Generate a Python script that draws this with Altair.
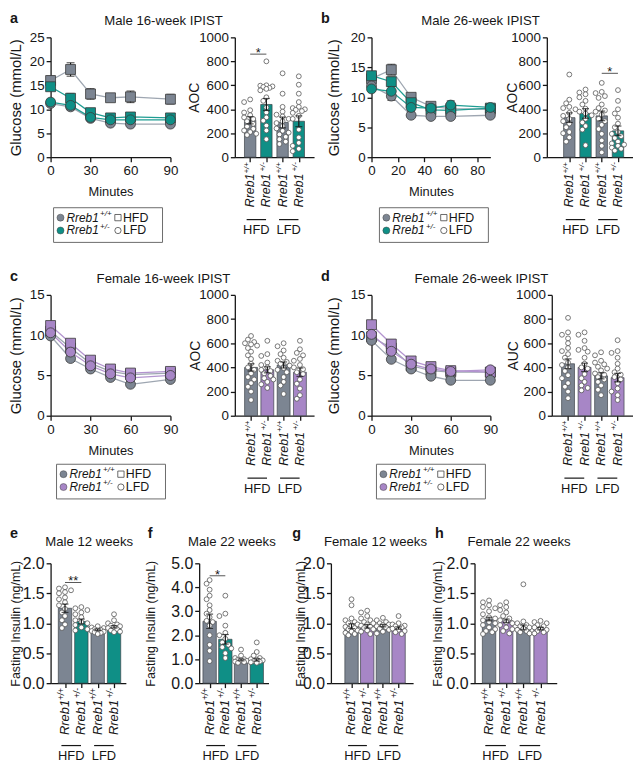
import altair as alt
import pandas as pd

FONT = "Liberation Sans"
GREY = "#7c8592"
TEAL = "#0f8f86"
PURPLE = "#a786c6"
GREY_LINE = "#9ea6b1"
TEAL_LINE = "#1f9d93"
PURPLE_LINE = "#b394cf"
INK = "#161616"

# ---------------- data ----------------
TIMES = [0, 15, 30, 45, 60, 90]
DIETS = ["HFD", "LFD"]
GENOS = ["+/+", "+/-"]
BAR_SUPS = ["+/+", "+/-", "+/+", "+/-"]

# panel a: Male 16-week IPIST (glucose, mmol/L)
A_HFD_WT = [16.0, 18.3, 13.2, 12.4, 12.6, 12.1]
A_HFD_WT_SEM = [0.9, 1.4, 1.1, 0.8, 1.2, 1.0]
A_HFD_HET = [14.7, 12.3, 9.3, 8.2, 8.4, 8.2]
A_HFD_HET_SEM = [0.6, 1.0, 0.8, 0.7, 0.9, 0.8]
A_LFD_WT = [11.2, 10.5, 8.1, 7.1, 6.9, 6.9]
A_LFD_WT_SEM = [0.4, 0.6, 0.4, 0.3, 0.3, 0.3]
A_LFD_HET = [11.5, 10.8, 8.3, 7.8, 7.8, 7.8]
A_LFD_HET_SEM = [0.5, 0.7, 0.5, 0.5, 0.6, 0.5]
# panel a: AOC
A_AOC_MEAN = [308, 440, 290, 300]
A_AOC_SEM = [30, 50, 45, 45]
A_AOC_HFD_WT = [482, 460, 392, 373, 351, 332, 319, 300, 278, 256, 237, 223, 210, 196, 185]
A_AOC_HFD_HET = [800, 600, 597, 591, 586, 578, 570, 558, 500, 470, 415, 373, 332, 305, 264, 223, 150]
A_AOC_LFD_WT = [700, 530, 420, 380, 355, 340, 320, 300, 285, 260, 240, 220, 205, 190, 170, 150, 130, 110]
A_AOC_LFD_HET = [675, 605, 530, 460, 420, 410, 400, 395, 385, 370, 345, 320, 230, 165, 120, 95, 70, 50]

# panel b: Male 26-week IPIST
B_HFD_WT = [13.1, 14.6, 10.0, 8.5, 8.1, 8.0]
B_HFD_WT_SEM = [0.6, 0.9, 0.6, 0.5, 0.5, 0.4]
B_HFD_HET = [13.6, 12.6, 9.1, 7.9, 7.8, 8.2]
B_HFD_HET_SEM = [0.7, 0.8, 0.7, 0.4, 0.5, 0.4]
B_LFD_WT = [11.9, 10.2, 7.0, 6.8, 6.8, 7.0]
B_LFD_WT_SEM = [0.4, 0.7, 0.3, 0.3, 0.3, 0.3]
B_LFD_HET = [11.4, 11.0, 8.3, 8.2, 8.7, 8.3]
B_LFD_HET_SEM = [0.3, 0.8, 0.6, 0.5, 0.7, 0.4]
B_AOC_MEAN = [330, 365, 345, 220]
B_AOC_SEM = [40, 40, 40, 40]
B_AOC_HFD_WT = [690, 480, 450, 420, 410, 400, 370, 345, 320, 300, 280, 250, 210, 200, 165, 130]
B_AOC_HFD_HET = [565, 540, 525, 500, 470, 440, 405, 380, 365, 350, 320, 290, 260, 230, 100]
B_AOC_LFD_WT = [620, 545, 535, 510, 495, 440, 410, 390, 380, 355, 320, 300, 270, 235, 195, 140, 95, 40]
B_AOC_LFD_HET = [560, 470, 400, 365, 330, 280, 250, 210, 195, 175, 160, 130, 115, 105, 95, 80, 70, 55]

# panel c: Female 16-week IPIST
C_HFD_WT = [10.5, 8.4, 6.5, 5.5, 5.1, 5.3]
C_HFD_WT_SEM = [0.4, 0.4, 0.3, 0.3, 0.3, 0.3]
C_HFD_HET = [11.2, 9.0, 6.9, 5.8, 5.3, 5.5]
C_HFD_HET_SEM = [0.4, 0.4, 0.3, 0.3, 0.3, 0.3]
C_LFD_WT = [9.9, 7.1, 5.8, 4.75, 3.9, 4.5]
C_LFD_WT_SEM = [0.3, 0.3, 0.3, 0.2, 0.2, 0.2]
C_LFD_HET = [10.3, 7.9, 6.2, 5.2, 4.7, 5.0]
C_LFD_HET_SEM = [0.3, 0.4, 0.3, 0.3, 0.3, 0.3]
C_AOC_MEAN = [400, 380, 420, 360]
C_AOC_SEM = [30, 25, 25, 35]
C_AOC_HFD_WT = [660, 630, 610, 600, 590, 580, 560, 530, 500, 470, 430, 400, 380, 350, 320, 300, 270, 240, 200, 130]
C_AOC_HFD_HET = [620, 510, 495, 440, 420, 400, 380, 370, 350, 330, 310, 300, 280, 260, 230]
C_AOC_LFD_WT = [600, 575, 540, 510, 480, 455, 445, 430, 415, 395, 380, 360, 320, 280, 250, 180]
C_AOC_LFD_HET = [620, 550, 520, 500, 470, 455, 420, 400, 385, 360, 345, 300, 265, 225, 170, 140]

# panel d: Female 26-week IPIST
D_HFD_WT = [9.8, 8.4, 6.2, 5.6, 5.4, 5.4]
D_HFD_WT_SEM = [0.4, 0.4, 0.3, 0.3, 0.3, 0.3]
D_HFD_HET = [11.3, 8.9, 6.8, 6.1, 5.6, 5.4]
D_HFD_HET_SEM = [0.4, 0.5, 0.3, 0.3, 0.3, 0.3]
D_LFD_WT = [9.35, 7.0, 5.8, 4.9, 4.4, 4.4]
D_LFD_WT_SEM = [0.3, 0.3, 0.3, 0.2, 0.2, 0.2]
D_LFD_HET = [10.1, 8.0, 6.4, 5.8, 5.5, 5.7]
D_LFD_HET_SEM = [0.3, 0.4, 0.3, 0.3, 0.3, 0.3]
D_AUC_MEAN = [430, 400, 330, 315]
D_AUC_SEM = [40, 35, 25, 35]
D_AUC_HFD_WT = [810, 690, 670, 640, 600, 560, 535, 510, 480, 440, 420, 400, 370, 335, 310, 270, 240, 200, 145]
D_AUC_HFD_HET = [690, 670, 620, 560, 545, 530, 480, 430, 400, 390, 345, 310, 280, 250, 230, 210]
D_AUC_LFD_WT = [525, 500, 455, 440, 425, 405, 390, 375, 350, 340, 320, 300, 280, 250, 215, 170]
D_AUC_LFD_HET = [625, 535, 520, 480, 430, 390, 360, 340, 320, 300, 270, 225, 200, 170, 130]

# panel e: Male 12 weeks fasting insulin (ng/mL)
E_MEAN = [1.25, 1.03, 0.89, 0.94]
E_SEM = [0.07, 0.04, 0.015, 0.02]
E_HFD_WT = [1.60, 1.58, 1.55, 1.52, 1.50, 1.43, 1.40, 1.35, 1.30, 1.24, 1.18, 1.12, 1.05, 0.98, 0.92]
E_HFD_HET = [1.27, 1.25, 1.22, 1.18, 1.15, 1.10, 1.05, 1.02, 1.00, 0.97, 0.93, 0.90, 0.88]
E_LFD_WT = [0.95, 0.93, 0.92, 0.90, 0.89, 0.88, 0.87, 0.86, 0.85, 0.84, 0.82]
E_LFD_HET = [1.15, 1.05, 1.00, 0.98, 0.96, 0.95, 0.93, 0.92, 0.90, 0.88, 0.86, 0.85]

# panel f: Male 22 weeks
F_MEAN = [2.58, 1.83, 0.97, 0.97]
F_SEM = [0.30, 0.20, 0.04, 0.05]
F_HFD_WT = [4.30, 4.15, 3.90, 3.65, 3.50, 3.25, 3.05, 2.90, 2.75, 2.60, 2.55, 2.40, 2.00, 1.60, 1.35, 0.92]
F_HFD_HET = [3.65, 2.90, 2.80, 2.40, 2.10, 2.00, 1.85, 1.70, 1.60, 1.50, 1.45, 1.25, 1.05]
F_LFD_WT = [1.40, 1.15, 1.05, 1.00, 0.98, 0.95, 0.93, 0.90, 0.88, 0.85]
F_LFD_HET = [1.70, 1.30, 1.15, 1.05, 1.00, 0.98, 0.95, 0.92, 0.90, 0.87, 0.85]

# panel g: Female 12 weeks
G_MEAN = [0.95, 0.95, 0.96, 0.92]
G_SEM = [0.04, 0.03, 0.02, 0.02]
G_HFD_WT = [1.40, 1.30, 1.08, 1.05, 1.02, 1.00, 0.98, 0.96, 0.94, 0.92, 0.90, 0.88, 0.86, 0.84, 0.82, 0.80]
G_HFD_HET = [1.21, 1.18, 1.12, 1.08, 1.05, 1.02, 1.00, 0.98, 0.96, 0.94, 0.92, 0.90, 0.88, 0.86, 0.82]
G_LFD_WT = [1.09, 1.05, 1.02, 1.00, 0.98, 0.97, 0.95, 0.93, 0.91, 0.89, 0.86, 0.83]
G_LFD_HET = [1.12, 1.00, 0.98, 0.96, 0.95, 0.93, 0.91, 0.89, 0.87, 0.85, 0.82]

# panel h: Female 22 weeks
H_MEAN = [1.07, 1.04, 0.93, 0.91]
H_SEM = [0.03, 0.03, 0.04, 0.02]
H_HFD_WT = [1.38, 1.35, 1.30, 1.27, 1.25, 1.20, 1.15, 1.10, 1.08, 1.05, 1.02, 1.00, 0.97, 0.93, 0.90, 0.87, 0.85, 0.82]
H_HFD_HET = [1.35, 1.30, 1.27, 1.22, 1.18, 1.12, 1.08, 1.05, 1.02, 1.00, 0.97, 0.93, 0.90, 0.87, 0.83]
H_LFD_WT = [1.65, 1.03, 1.00, 0.97, 0.95, 0.93, 0.91, 0.89, 0.87, 0.85, 0.83]
H_LFD_HET = [1.04, 1.02, 1.00, 0.97, 0.95, 0.93, 0.91, 0.89, 0.87, 0.85, 0.83]


# ---------------- helpers ----------------
def ann(text, x, y, size, bold=False, align="left", baseline="alphabetic"):
    return alt.Chart(pd.DataFrame({"s": [text]})).mark_text(
        fontSize=size, fontWeight="bold" if bold else "normal", align=align,
        baseline=baseline, color=INK
    ).encode(text="s:N", x=alt.value(x), y=alt.value(y))


def swarm(vals, ppu, step_px, cands=(0.0, -3.6, 3.6, -7.0, 7.0), mind=4.8):
    order = sorted(range(len(vals)), key=lambda i: -vals[i])
    placed = []
    offs = [0.0] * len(vals)
    for i in order:
        y = vals[i] * ppu
        best, bestd = cands[0], -1.0
        for c in cands:
            d = min((((c - px) ** 2 + (y - py) ** 2) ** 0.5 for px, py in placed), default=1e9)
            if d >= mind:
                best = c
                break
            if d > bestd:
                bestd, best = d, c
        placed.append((best, y))
        offs[i] = best / step_px
    return offs


def legend_layers(het_fill, box_x0, box_y0):
    ldf = pd.DataFrame({"geno": GENOS, "diet": DIETS})
    box = alt.Chart(pd.DataFrame({"k": [0]})).mark_rect(
        fillOpacity=0, stroke="#6b6b6b", strokeWidth=1).encode(
        x=alt.value(box_x0), x2=alt.value(box_x0 + 110), y=alt.value(box_y0), y2=alt.value(box_y0 + 35))
    out = [box]
    for i in range(2):
        yv = alt.value(box_y0 + 10 + 13 * i)
        b = alt.Chart(ldf.iloc[[i]])
        out.append(b.mark_point(filled=True, opacity=1, shape="circle", size=50,
                                stroke="#444", strokeWidth=0.5, fill=[GREY, het_fill][i]).encode(
            x=alt.value(box_x0 + 7), y=yv))
        out.append(b.mark_text(align="left", baseline="middle", fontStyle="italic", fontSize=12,
                               color=INK).encode(x=alt.value(box_x0 + 13), y=yv, text=alt.value("Rreb1")))
        out.append(b.mark_text(align="left", baseline="middle", fontStyle="italic", fontSize=8, dy=-4,
                               color=INK).encode(x=alt.value(box_x0 + 47), y=yv, text="geno:N"))
        out.append(b.mark_point(filled=False, opacity=1, size=40, stroke="#444", strokeWidth=0.8,
                                shape=["square", "circle"][i]).encode(x=alt.value(box_x0 + 65), y=yv))
        out.append(b.mark_text(align="left", baseline="middle", fontSize=12.5, color=INK).encode(
            x=alt.value(box_x0 + 70), y=yv, text="diet:N"))
    return out


def make_line(series, het_fill, het_line, ymax, xticks, W, H, ytitle_x,
              letter, letter_x, title, title_cx, leg_x, leg_y):
    rows = []
    for diet, geno, means, sems in series:
        wt = geno == "+/+"
        for t, m, s in zip(TIMES, means, sems):
            rows.append({"t": t, "m": m, "lo": m - s, "hi": m + s, "key": diet + geno,
                         "shp": "square" if diet == "HFD" else "circle",
                         "fc": GREY if wt else het_fill, "lc": GREY_LINE if wt else het_line})
    df = pd.DataFrame(rows)
    xs = alt.Scale(domain=[0, 90], nice=False, zero=False)
    xa = alt.Axis(values=xticks, title="Minutes", labelFontSize=13.5, titleFontSize=13,
                  titlePadding=9, labelFlush=False, labelOverlap=False)
    ys = alt.Scale(domain=[0, ymax], nice=False)
    ya = alt.Axis(values=list(range(0, ymax + 1, 5)), title="Glucose (mmol/L)",
                  labelFontSize=13.5, titleFontSize=15, titleX=ytitle_x, labelOverlap=False)

    def X(f):
        return alt.X(f, type="quantitative", scale=xs, axis=xa)

    def Y(f):
        return alt.Y(f, type="quantitative", scale=ys, axis=ya)

    base = alt.Chart(df)
    lines = base.mark_line(strokeWidth=1.3).encode(
        x=X("t"), y=Y("m"), detail="key:N", color=alt.Color("lc:N", scale=None))
    err = base.mark_rule(color=INK, strokeWidth=1.2).encode(x=X("t"), y=Y("lo"), y2="hi:Q")
    caps = base.transform_fold(["lo", "hi"], as_=["which", "v"]).mark_tick(
        color=INK, thickness=1.2, size=8, orient="horizontal").encode(x=X("t"), y=Y("v"))
    pts = base.mark_point(filled=True, opacity=1, stroke="#3a3a3a", strokeWidth=0.8, size=100).encode(
        x=X("t"), y=Y("m"), shape=alt.Shape("shp:N", scale=None), fill=alt.Fill("fc:N", scale=None))
    return alt.layer(
        lines, err, caps, pts,
        ann(letter, letter_x, -14, 14.5, bold=True),
        ann(title, title_cx, -12, 13.3, align="center"),
        *legend_layers(het_fill, leg_x, leg_y),
    ).properties(width=W, height=H)


def make_bar(means, sems, dots, het_fill, ymax, yticks, fmt, W, H, first_off, step, bar_w,
             ytitle, ytitle_x, tick_font, title_font, lab_font,
             sig=None, letter=None, letter_x=0, letter_y=-26, title=None, title_cx=0, title_y=-17):
    lo = -first_off / step
    xs = alt.Scale(domain=[lo, lo + W / step], nice=False, zero=False)
    xa = alt.Axis(values=[0, 1, 2, 3], labels=False, title=None, tickSize=4.5)
    ys = alt.Scale(domain=[0, ymax], nice=False)
    ya = alt.Axis(values=yticks, format=fmt, title=ytitle, labelFontSize=tick_font,
                  titleFontSize=title_font, titleX=ytitle_x, labelOverlap=False)

    def X(f):
        return alt.X(f, type="quantitative", scale=xs, axis=xa)

    def Y(f):
        return alt.Y(f, type="quantitative", scale=ys, axis=ya)

    bdf = pd.DataFrame({"idx": [0, 1, 2, 3], "mean": means,
                        "lo": [m - s for m, s in zip(means, sems)],
                        "hi": [m + s for m, s in zip(means, sems)],
                        "fc": [GREY, het_fill, GREY, het_fill], "sup": BAR_SUPS})
    drows = []
    for g, vals in enumerate(dots):
        offs = swarm(vals, H / ymax, step)
        for v, o in zip(vals, offs):
            drows.append({"xd": g + o, "v": v})
    ddf = pd.DataFrame(drows)

    bars = alt.Chart(bdf).mark_bar(width=bar_w, stroke="#3d4249", strokeWidth=0.7).encode(
        x=X("idx"), y=Y("mean"), fill=alt.Fill("fc:N", scale=None))
    pts = alt.Chart(ddf).mark_point(shape="circle", filled=True, fill="white", opacity=1,
                                    stroke="#575757", strokeWidth=0.8, size=24).encode(x=X("xd"), y=Y("v"))
    err = alt.Chart(bdf).mark_rule(color=INK, strokeWidth=1.2).encode(x=X("idx"), y=Y("lo"), y2="hi:Q")
    caps = alt.Chart(bdf).transform_fold(["lo", "hi"], as_=["which", "v"]).mark_tick(
        color=INK, thickness=1.2, size=7, orient="horizontal").encode(x=X("idx"), y=Y("v"))
    lab_main = alt.Chart(bdf).mark_text(angle=270, align="right", baseline="middle",
                                        fontStyle="italic", fontSize=lab_font, dx=-lab_font * 0.92,
                                        color=INK).encode(
        x=X("idx"), y=alt.value(H + 5), text=alt.value("Rreb1"))
    lab_sup = alt.Chart(bdf).mark_text(angle=270, align="right", baseline="middle",
                                       fontStyle="italic", fontSize=lab_font * 0.64, dy=-3.5,
                                       color=INK).encode(
        x=X("idx"), y=alt.value(H + 5), text="sup:N")
    gdf = pd.DataFrame({"name": DIETS, "i0": [0, 2], "i1": [1, 3]})
    grule = alt.Chart(gdf).transform_calculate(a="datum.i0 - 0.22", b="datum.i1 - 0.02").mark_rule(
        color=INK, strokeWidth=1.2).encode(x=X("a"), x2="b:Q", y=alt.value(H + 63))
    gtext = alt.Chart(gdf).transform_calculate(c="(datum.i0 + datum.i1) / 2 - 0.12").mark_text(
        fontSize=13, baseline="middle", color=INK).encode(x=X("c"), y=alt.value(H + 74), text="name:N")
    layers = [bars, pts, err, caps, lab_main, lab_sup, grule, gtext]
    if sig is not None:
        i0, i1, yv, star = sig
        sdf = pd.DataFrame({"i0": [i0], "i1": [i1], "y": [yv], "s": [star]})
        layers.append(alt.Chart(sdf).mark_rule(color="#555", strokeWidth=1).encode(
            x=X("i0"), x2="i1:Q", y=Y("y")))
        layers.append(alt.Chart(sdf).transform_calculate(c="(datum.i0 + datum.i1) / 2").mark_text(
            fontSize=13, baseline="alphabetic", dy=3, color=INK).encode(x=X("c"), y=Y("y"), text="s:N"))
    if letter is not None:
        layers.append(ann(letter, letter_x, letter_y, 14.5, bold=True))
    if title is not None:
        layers.append(ann(title, title_cx, title_y, 13.3, align="center"))
    return alt.layer(*layers).properties(width=W, height=H)


def spacer(w):
    return alt.Chart(pd.DataFrame({"k": [0]})).mark_point(opacity=0).encode(
        x=alt.value(0), y=alt.value(0)).properties(width=w, height=1)


def row(*c):
    return alt.hconcat(*c, spacing=0, bounds="flush")


# ---------------- row 1 ----------------
H1 = 121
lineA = make_line([("HFD", "+/+", A_HFD_WT, A_HFD_WT_SEM), ("HFD", "+/-", A_HFD_HET, A_HFD_HET_SEM),
                   ("LFD", "+/+", A_LFD_WT, A_LFD_WT_SEM), ("LFD", "+/-", A_LFD_HET, A_LFD_HET_SEM)],
                  TEAL, TEAL_LINE, 25, [0, 30, 60, 90], 121, H1, -27, "a", -41, "Male 16-week IPIST", 114,
                  3, H1 + 51)
barA = make_bar(A_AOC_MEAN, A_AOC_SEM, [A_AOC_HFD_WT, A_AOC_HFD_HET, A_AOC_LFD_WT, A_AOC_LFD_HET],
                TEAL, 1000, [0, 200, 400, 600, 800, 1000], "d", 80, H1, 12, 18.7, 11.5,
                "AOC", -34, 13.5, 14, 12.5, sig=(0, 1, 860, "*"))
lineB = make_line([("HFD", "+/+", B_HFD_WT, B_HFD_WT_SEM), ("HFD", "+/-", B_HFD_HET, B_HFD_HET_SEM),
                   ("LFD", "+/+", B_LFD_WT, B_LFD_WT_SEM), ("LFD", "+/-", B_LFD_HET, B_LFD_HET_SEM)],
                  TEAL, TEAL_LINE, 20, [0, 20, 40, 60, 80], 120, H1, -30, "b", -51, "Male 26-week IPIST", 110,
                  8, H1 + 51)
barB = make_bar(B_AOC_MEAN, B_AOC_SEM, [B_AOC_HFD_WT, B_AOC_HFD_HET, B_AOC_LFD_WT, B_AOC_LFD_HET],
                TEAL, 1000, [0, 200, 400, 600, 800, 1000], "d", 87, H1, 20, 18.5, 11.5,
                "AOC", -28, 13.5, 14, 12.5, sig=(2, 3, 700, "*"))
row1 = row(lineA, spacer(65), barA, spacer(58), lineB, spacer(57), barB)

# ---------------- row 2 ----------------
H2 = 122
lineC = make_line([("HFD", "+/+", C_HFD_WT, C_HFD_WT_SEM), ("HFD", "+/-", C_HFD_HET, C_HFD_HET_SEM),
                   ("LFD", "+/+", C_LFD_WT, C_LFD_WT_SEM), ("LFD", "+/-", C_LFD_HET, C_LFD_HET_SEM)],
                  PURPLE, PURPLE_LINE, 15, [0, 30, 60, 90], 121, H2, -27, "c", -41, "Female 16-week IPIST", 114,
                  6, H2 + 49)
barC = make_bar(C_AOC_MEAN, C_AOC_SEM, [C_AOC_HFD_WT, C_AOC_HFD_HET, C_AOC_LFD_WT, C_AOC_LFD_HET],
                PURPLE, 1000, [0, 200, 400, 600, 800, 1000], "d", 80, H2, 13, 18.8, 13,
                "AOC", -33, 13.5, 14, 12.5)
lineD = make_line([("HFD", "+/+", D_HFD_WT, D_HFD_WT_SEM), ("HFD", "+/-", D_HFD_HET, D_HFD_HET_SEM),
                   ("LFD", "+/+", D_LFD_WT, D_LFD_WT_SEM), ("LFD", "+/-", D_LFD_HET, D_LFD_HET_SEM)],
                  PURPLE, PURPLE_LINE, 15, [0, 30, 60, 90], 120, H2, -30, "d", -51, "Female 26-week IPIST", 111,
                  5, H2 + 49)
barD = make_bar(D_AUC_MEAN, D_AUC_SEM, [D_AUC_HFD_WT, D_AUC_HFD_HET, D_AUC_LFD_WT, D_AUC_LFD_HET],
                PURPLE, 1000, [0, 200, 400, 600, 800, 1000], "d", 82, H2, 13, 19, 13,
                "AUC", -32, 13.5, 14, 12.5)
row2 = row(lineC, spacer(65), barC, spacer(58), lineD, spacer(62), barD)

# ---------------- row 3 ----------------
H3 = 121
INS = "Fasting Insulin (ng/mL)"
T2 = [0, 0.5, 1.0, 1.5, 2.0]
barE = make_bar(E_MEAN, E_SEM, [E_HFD_WT, E_HFD_HET, E_LFD_WT, E_LFD_HET], TEAL, 2.0, T2, ".1f",
                76, H3, 11, 19, 13.5, INS, -28, 16, 12.5, 13, sig=(0, 1, 1.68, "**"),
                letter="e", letter_x=-41, title="Male 12 weeks", title_cx=39)
barF = make_bar(F_MEAN, F_SEM, [F_HFD_WT, F_HFD_HET, F_LFD_WT, F_LFD_HET], TEAL, 5.0,
                [0, 1, 2, 3, 4, 5], ".1f", 70, H3, 6.5, 18.5, 13.5, INS, -42, 16, 12.5, 13,
                sig=(0, 1, 4.48, "*"), letter="f", letter_x=-52, title="Male 22 weeks", title_cx=33)
barG = make_bar(G_MEAN, G_SEM, [G_HFD_WT, G_HFD_HET, G_LFD_WT, G_LFD_HET], PURPLE, 2.0, T2, ".1f",
                83, H3, 18, 18, 13.5, INS, -24, 16, 12.5, 13,
                letter="g", letter_x=-39, title="Female 12 weeks", title_cx=45)
barH = make_bar(H_MEAN, H_SEM, [H_HFD_WT, H_HFD_HET, H_LFD_WT, H_LFD_HET], PURPLE, 2.0, T2, ".1f",
                83, H3, 11, 19.7, 13.5, INS, -30, 16, 12.5, 13,
                letter="h", letter_x=-40, title="Female 22 weeks", title_cx=45)
row3 = row(barE, spacer(74), barF, spacer(63), barG, spacer(62), barH)

chart = alt.vconcat(row1, row2, row3, spacing=26).properties(padding=0)
chart = chart.configure(font=FONT).configure_view(strokeOpacity=0).configure_axis(
    labelFont=FONT, titleFont=FONT, labelColor=INK, titleColor=INK, domainColor=INK, tickColor=INK,
    domainWidth=1.3, tickWidth=1.3, tickSize=4.5, grid=False, titleFontWeight="normal", labelPadding=2
).configure_text(font=FONT)

chart.save("out.html", embed_options={"renderer": "svg", "actions": False})
